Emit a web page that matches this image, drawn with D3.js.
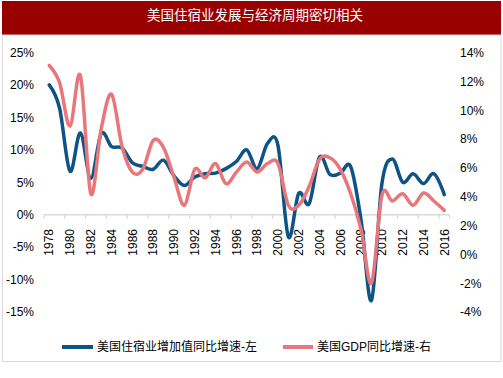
<!DOCTYPE html>
<html>
<head>
<meta charset="utf-8">
<script src="https://cdn.jsdelivr.net/npm/d3@7"></script>
<style>
  html, body { margin: 0; padding: 0; background: #fff; }
  svg { display: block; }
  text { font-family: "Liberation Sans", Arial, "Noto Sans CJK SC", sans-serif; }
</style>
</head>
<body>
<svg id="chart" width="503" height="378"></svg>
<script>
// ---- data ----
const title = "美国住宿业发展与经济周期密切相关";
const years = d3.range(1978, 2017);
const lodgingGrowth = [20.0, 16.4, 6.7, 12.6, 5.6, 12.5, 10.5, 10.3, 8.0, 7.45,
  7.0, 8.4, 6.0, 4.5, 5.8, 6.3, 6.4, 7.1, 8.2, 10.0,
  7.1, 11.0, 10.7, -3.4, 3.3, 1.7, 8.9, 6.2, 6.4, 7.4,
  -0.9, -13.2, 4.8, 8.6, 5.0, 6.3, 4.8, 6.3, 3.1];
const gdpGrowth = [13.1, 11.9, 8.9, 12.4, 4.2, 8.7, 11.1, 7.5, 5.7, 5.9,
  7.9, 7.4, 5.35, 3.4, 5.9, 5.3, 6.3, 4.9, 5.7, 6.4,
  5.7, 6.3, 6.3, 3.4, 3.4, 4.7, 6.6, 6.7, 5.9, 4.2,
  1.7, -2.0, 4.1, 3.7, 4.2, 3.4, 4.25, 3.7, 3.05];
const leftTicks = [25, 20, 15, 10, 5, 0, -5, -10, -15];
const rightTicks = [14, 12, 10, 8, 6, 4, 2, 0, -2, -4];
const xLabelYears = years.filter(y => (y - 1978) % 2 === 0);
const seriesNames = ["美国住宿业增加值同比增速-左", "美国GDP同比增速-右"];
const colors = ["#0d5386", "#e8767a"];

// ---- drawing ----
const svg = d3.select("#chart");

// title bar
svg.append("rect").attr("x", 2).attr("y", 1).attr("width", 499).attr("height", 34)
  .attr("fill", "#990000");
svg.append("text").attr("x", 255).attr("y", 14).attr("text-anchor", "middle")
  .attr("dominant-baseline", "central")
  .attr("fill", "#fff").attr("font-size", 13.5)
  .style("font-family", '"Noto Sans CJK SC", sans-serif')
  .text(title);

// frame
svg.append("rect").attr("x", 2.5).attr("y", 35).attr("width", 498.5).attr("height", 326.5)
  .attr("fill", "none").attr("stroke", "#d9d9d9").attr("stroke-width", 1);

const x = d3.scaleBand().domain(years).range([44, 449.5]).padding(0);
const bw = x.bandwidth();
const yL = d3.scaleLinear().domain([-15, 25]).range([312, 52.5]);
const yR = d3.scaleLinear().domain([-4, 14]).range([312, 52.5]);

// left axis labels
const gL = svg.append("g").attr("transform", "translate(34,0)")
  .call(d3.axisLeft(yL).tickValues(leftTicks).tickFormat(d => d + "%").tickSize(0).tickPadding(0));
gL.select(".domain").remove();
gL.selectAll("text").attr("font-size", 12).attr("fill", "#000")
  .style("font-family", '"Liberation Sans", Arial, sans-serif');

// right axis labels
const gR = svg.append("g").attr("transform", "translate(460,0)")
  .call(d3.axisRight(yR).tickValues(rightTicks).tickFormat(d => d + "%").tickSize(0).tickPadding(0));
gR.select(".domain").remove();
gR.selectAll("text").attr("font-size", 12).attr("fill", "#000")
  .style("font-family", '"Liberation Sans", Arial, sans-serif');

// x axis line and ticks
const y0 = yL(0);
svg.append("line").attr("x1", x.range()[0]).attr("x2", x.range()[1])
  .attr("y1", y0).attr("y2", y0).attr("stroke", "#d9d9d9").attr("stroke-width", 1.5);
svg.append("g").selectAll("line").data(xLabelYears).join("line")
  .attr("x1", d => x(d)).attr("x2", d => x(d))
  .attr("y1", y0).attr("y2", y0 + 4).attr("stroke", "#d9d9d9").attr("stroke-width", 1.2);
svg.append("line").attr("x1", x.range()[1]).attr("x2", x.range()[1])
  .attr("y1", y0).attr("y2", y0 + 4).attr("stroke", "#d9d9d9").attr("stroke-width", 1.2);

// x labels
svg.append("g").selectAll("text").data(xLabelYears).join("text")
  .attr("transform", d => `translate(${x(d) + bw / 2},229) rotate(-90)`)
  .attr("text-anchor", "end").attr("dy", "0.35em")
  .attr("font-size", 12).attr("fill", "#000")
  .style("font-family", '"Liberation Sans", Arial, sans-serif')
  .text(d => d);

// lines
const lineL = d3.line().x((d, i) => x(years[i]) + bw / 2).y(d => yL(d))
  .curve(d3.curveCardinal.tension(0));
const lineR = d3.line().x((d, i) => x(years[i]) + bw / 2).y(d => yR(d))
  .curve(d3.curveCardinal.tension(0));
svg.append("path").datum(lodgingGrowth).attr("d", lineL)
  .attr("fill", "none").attr("stroke", colors[0]).attr("stroke-width", 3.5)
  .attr("stroke-linejoin", "round").attr("stroke-linecap", "round");
svg.append("path").datum(gdpGrowth).attr("d", lineR)
  .attr("fill", "none").attr("stroke", colors[1]).attr("stroke-width", 3.5)
  .attr("stroke-linejoin", "round").attr("stroke-linecap", "round");

// legend
const legendItems = [
  { x1: 62, x2: 93, tx: 97 },
  { x1: 283, x2: 313, tx: 317 }
];
const lg = svg.append("g");
legendItems.forEach((it, i) => {
  lg.append("line").attr("x1", it.x1).attr("x2", it.x2).attr("y1", 347).attr("y2", 347)
    .attr("stroke", colors[i]).attr("stroke-width", 4);
  lg.append("text").attr("x", it.tx).attr("y", 347).attr("dominant-baseline", "central")
    .attr("font-size", 12).attr("fill", "#000")
    .text(seriesNames[i]);
});
</script>
</body>
</html>
